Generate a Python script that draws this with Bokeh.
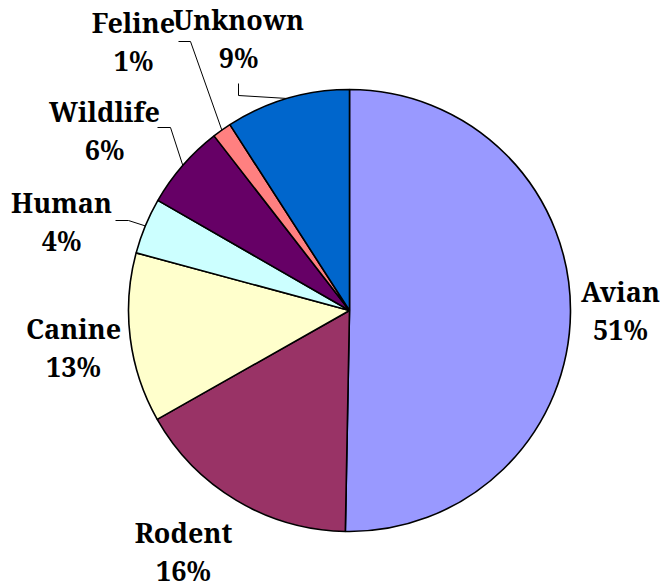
import math
from bokeh.plotting import figure
from bokeh.models import Range1d, ColumnDataSource
from bokeh.core.properties import value
from bokeh.embed import file_html
from bokeh.resources import INLINE

# ---- data ----
names = ["Avian", "Rodent", "Canine", "Human", "Wildlife", "Feline", "Unknown"]
shares = [50.3, 16.5, 12.4, 4.1, 6.2, 1.4, 9.1]
pct_labels = ["51%", "16%", "13%", "4%", "6%", "1%", "9%"]
colors = ["#9999FF", "#993366", "#FFFFCC", "#CCFFFF", "#660066", "#FF8080", "#0066CC"]

# ---- layout (picture pixel coordinates) ----
W, H = 663, 588
CX_PX, CY_PX, R = 349, 310, 221
label_pos = [(620, 310), (183, 551), (73, 347), (61, 221), (104, 130), (133, 41), (238, 38)]
LINE_GAP = 38
leader_idx = [3, 4, 5, 6]
leader_pts = [[(115, 220), (128, 220)], [(157, 127), (170, 127)],
              [(178, 41), (190, 41)], [(238, 83), (238, 95)]]

def Y(py):
    return 588 - py

p = figure(width=W, height=H, x_range=Range1d(0, W), y_range=Range1d(588 - H, 588),
           output_backend="svg", toolbar_location=None, min_border=0)
p.axis.visible = False
p.grid.visible = False
p.outline_line_color = None
p.background_fill_color = "white"

cx, cy = CX_PX, Y(CY_PX)
total = sum(shares)
starts, ends, mids = [], [], []
c = 0.0
for s in shares:
    a0 = math.pi / 2 - 2 * math.pi * c / total
    c += s
    a1 = math.pi / 2 - 2 * math.pi * c / total
    starts.append(a0)
    ends.append(a1)
    mids.append((a0 + a1) / 2)

src = ColumnDataSource(dict(start=starts, end=ends, color=colors, name=names))
p.wedge(x=cx, y=cy, radius=R, start_angle="start", end_angle="end", direction="clock",
        fill_color="color", line_color="black", line_width=1.6, source=src)

# leader lines
xs, ys = [], []
for i, pts in zip(leader_idx, leader_pts):
    ex = cx + R * math.cos(mids[i])
    ey = cy + R * math.sin(mids[i])
    xs.append([pts[0][0], pts[1][0], ex])
    ys.append([Y(pts[0][1]), Y(pts[1][1]), ey])
p.multi_line(xs=xs, ys=ys, line_color="black", line_width=1)

# labels
tx, ty1, ty2 = [], [], []
for (lx, ly) in label_pos:
    tx.append(lx)
    ty1.append(Y(ly - LINE_GAP / 2))
    ty2.append(Y(ly + LINE_GAP / 2))
lsrc = ColumnDataSource(dict(x=tx, y1=ty1, y2=ty2, name=names, pct=pct_labels))
common = dict(text_font=value("Noto Serif"), text_font_style="bold",
              text_font_size="27px", text_align="center", text_baseline="middle",
              text_color="black", source=lsrc)
p.text(x="x", y="y1", text="name", **common)
p.text(x="x", y="y2", text="pct", **common)

open("out.html", "w").write(file_html(p, INLINE))
